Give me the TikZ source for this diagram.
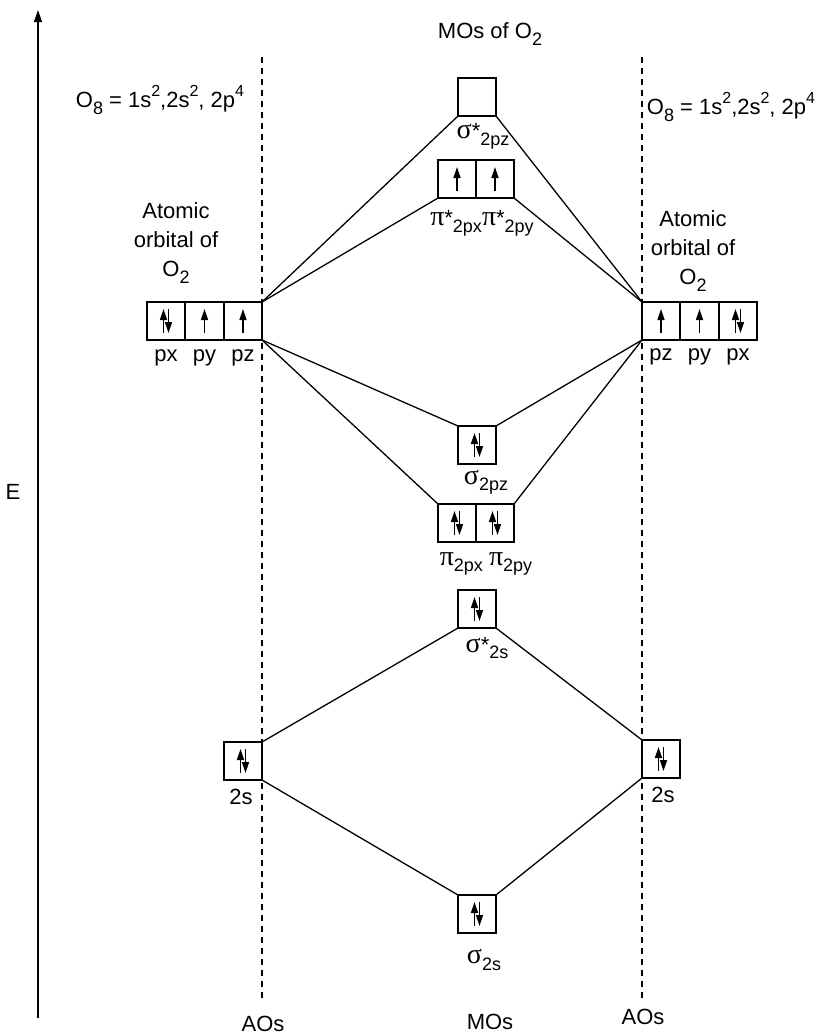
\documentclass[tikz,border=0pt]{standalone}
\usepackage{fontspec}
\setmainfont{Liberation Sans}
\newfontfamily\grk{Liberation Serif}
\usetikzlibrary{arrows.meta}
\newcommand\gk[1]{{\grk\fontsize{28}{28}\selectfont #1}}
\newcommand\sbx[1]{\raisebox{-0.3em}{\fontsize{18}{18}\selectfont #1}}
\newcommand\spx[1]{\raisebox{0.5em}{\fontsize{16}{16}\selectfont #1}}
\begin{document}
\begin{tikzpicture}[x=1pt,y=-1pt,
 orb/.style={draw, line width=1.4pt, minimum size=38pt, inner sep=0pt, outer sep=0pt},
 lbl/.style={font=\fontsize{22}{29}\selectfont, inner sep=1pt, align=center},
 conn/.style={line width=1.3pt},
 lev/.style={line width=1.3pt, dash pattern=on 6pt off 5pt},
 el/.style={line width=1.5pt, -{Triangle[length=11pt,width=7pt]}},
 up/.pic={\draw[el] (0,12) -- (0,-12);},
 pair/.pic={\draw[el] (-2.5,12) -- (-2.5,-12); \draw[el] (2.5,-12) -- (2.5,12);}
]
\useasboundingbox (0,0) rectangle (818,1036);
% energy axis
\coordinate (eb) at (38,1018);
\coordinate (et) at (38,10);
\draw[line width=1.4pt, -{Triangle[length=12pt,width=8pt]}] (eb) -- (et);
\node[lbl] (E) at (13,492) {E};
% dashed level lines
\coordinate (la) at (262,57); \coordinate (lb) at (262,998);
\coordinate (ra) at (642,57); \coordinate (rb) at (642,998);
\draw[lev] (la) -- (lb);
\draw[lev] (ra) -- (rb);
% titles
\node[lbl] (title) at (490,34) {MOs of O\sbx{2}};
\node[lbl] (lconf) at (160,100) {O\sbx{8} = 1s\spx{2},2s\spx{2}, 2p\spx{4}};
\node[lbl] (rconf) at (731,107) {O\sbx{8} = 1s\spx{2},2s\spx{2}, 2p\spx{4}};
\node[lbl] (lao) at (176,243) {Atomic\\orbital of\\O\sbx{2}};
\node[lbl] (rao) at (693,251) {Atomic\\orbital of\\O\sbx{2}};
% left AO 2p
\node[orb] (lpx) at (166,321) {}; \pic at (lpx) {pair};
\node[orb] (lpy) at (204.5,321) {}; \pic at (lpy) {up};
\node[orb] (lpz) at (243,321) {}; \pic at (lpz) {up};
\node[lbl] (lpxl) at (166,358) {px};
\node[lbl] (lpyl) at (204.5,358) {py};
\node[lbl] (lpzl) at (243,358) {pz};
% right AO 2p
\node[orb] (rpz) at (661,321) {}; \pic at (rpz) {up};
\node[orb] (rpy) at (699.5,321) {}; \pic at (rpy) {up};
\node[orb] (rpx) at (738,321) {}; \pic at (rpx) {pair};
\node[lbl] (rpzl) at (661,357) {pz};
\node[lbl] (rpyl) at (699.5,357) {py};
\node[lbl] (rpxl) at (738,357) {px};
% MOs 2p
\node[orb] (ss2p) at (477,97) {};
\node[lbl] (ss2pl) at (483,136) {\gk{σ}*\sbx{2pz}};
\node[orb] (pxs) at (457,179) {}; \pic at (pxs) {up};
\node[orb] (pys) at (495,179) {}; \pic at (pys) {up};
\node[lbl] (psl) at (482,223) {\gk{π}*\sbx{2px}\gk{π}*\sbx{2py}};
\node[orb] (s2p) at (477,445) {}; \pic at (s2p) {pair};
\node[lbl] (s2pl) at (486,482) {\gk{σ}\sbx{2pz}};
\node[orb] (px) at (457,523) {}; \pic at (px) {pair};
\node[orb] (py) at (495,523) {}; \pic at (py) {pair};
\node[lbl] (pl) at (486,564) {\gk{π}\sbx{2px} \gk{π}\sbx{2py}};
% 2s
\node[orb] (ss2s) at (477,609) {}; \pic at (ss2s) {pair};
\node[lbl] (ss2sl) at (487,648) {\gk{σ}*\sbx{2s}};
\node[orb] (l2s) at (243,761) {}; \pic at (l2s) {pair};
\node[lbl] (l2sl) at (241,797) {2s};
\node[orb] (r2s) at (661,759) {}; \pic at (r2s) {pair};
\node[lbl] (r2sl) at (663,795) {2s};
\node[orb] (s2s) at (477,914) {}; \pic at (s2s) {pair};
\node[lbl] (s2sl) at (484,960) {\gk{σ}\sbx{2s}};
% bottom labels
\node[lbl] (aol) at (263,1024) {AOs};
\node[lbl] (mol) at (490,1022) {MOs};
\node[lbl] (aor) at (643,1017) {AOs};
% connectors
\draw[conn] (lpz.north east) -- (ss2p.south west);
\draw[conn] (lpz.north east) -- (pxs.south west);
\draw[conn] (rpz.north west) -- (ss2p.south east);
\draw[conn] (rpz.north west) -- (pys.south east);
\draw[conn] (lpz.south east) -- (s2p.north west);
\draw[conn] (lpz.south east) -- (px.north west);
\draw[conn] (rpz.south west) -- (s2p.north east);
\draw[conn] (rpz.south west) -- (py.north east);
\draw[conn] (l2s.north east) -- (ss2s.south west);
\draw[conn] (r2s.north west) -- (ss2s.south east);
\draw[conn] (l2s.south east) -- (s2s.north west);
\draw[conn] (r2s.south west) -- (s2s.north east);
\end{tikzpicture}
\end{document}
